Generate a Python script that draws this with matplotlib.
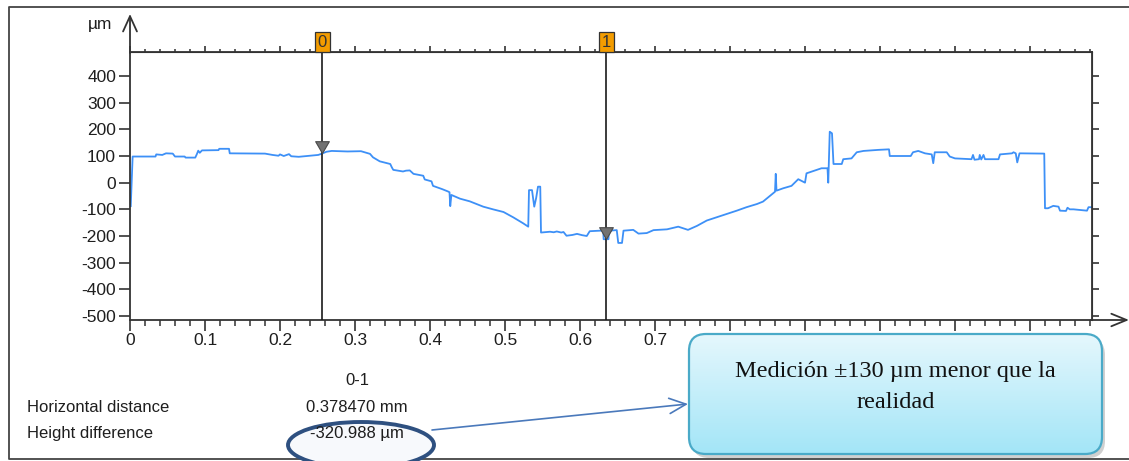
import matplotlib
matplotlib.use("Agg")
import matplotlib.pyplot as plt
import numpy as np
from matplotlib.patches import FancyBboxPatch, Ellipse
from matplotlib.path import Path
from matplotlib.ticker import MultipleLocator, FixedLocator

plt.rcParams["font.family"] = ["Liberation Sans", "DejaVu Sans"]
plt.rcParams["axes.unicode_minus"] = False

# profile trace (mm, µm)
profile_x = [
    0.001, 0.0035, 0.034, 0.035, 0.043, 0.048, 0.057, 0.060, 0.073, 0.074,
    0.087, 0.089, 0.091, 0.093, 0.096, 0.118, 0.119, 0.132, 0.133, 0.180,
    0.190, 0.198, 0.200, 0.205, 0.212, 0.215, 0.225, 0.240, 0.251, 0.257,
    0.262, 0.269, 0.290, 0.308, 0.313, 0.320, 0.324, 0.333, 0.347, 0.349,
    0.351, 0.364, 0.368, 0.373, 0.378, 0.391, 0.393, 0.402, 0.404, 0.416,
    0.424, 0.426, 0.427, 0.4285, 0.440, 0.453, 0.471, 0.484, 0.498, 0.511,
    0.524, 0.531, 0.532, 0.536, 0.539, 0.5415, 0.544, 0.547, 0.548, 0.560,
    0.565, 0.569, 0.575, 0.578, 0.582, 0.590, 0.596, 0.603, 0.609, 0.613,
    0.627, 0.631, 0.6315, 0.638, 0.6385, 0.649, 0.651, 0.656, 0.658, 0.671,
    0.678, 0.689, 0.698, 0.716, 0.731, 0.744, 0.756, 0.769, 0.782, 0.796,
    0.809, 0.822, 0.836, 0.844, 0.853, 0.860, 0.861, 0.862, 0.871, 0.882,
    0.891, 0.900, 0.902, 0.916, 0.922, 0.930, 0.931, 0.933, 0.936, 0.938,
    0.949, 0.951, 0.962, 0.969, 0.978, 0.998, 1.012, 1.013, 1.041, 1.044,
    1.051, 1.060, 1.069, 1.071, 1.073, 1.089, 1.093, 1.100, 1.122, 1.124,
    1.126, 1.132, 1.133, 1.135, 1.138, 1.140, 1.158, 1.160, 1.176, 1.178,
    1.181, 1.183, 1.186, 1.219, 1.220, 1.224, 1.231, 1.238, 1.240, 1.248,
    1.250, 1.253, 1.258, 1.276, 1.278, 1.282,
]
profile_z = [
    -88, 98, 98, 106, 104, 110, 109, 98, 98, 94,
    94, 106, 120, 112, 121, 122, 127, 127, 110, 109,
    104, 101, 106, 100, 107, 99, 97, 101, 104, 110,
    116, 119, 117, 118, 114, 108, 95, 80, 70, 58,
    48, 42, 45, 46, 33, 26, 12, 5, -12, -24,
    -33, -36, -88, -46, -60, -70, -90, -100, -110, -130,
    -152, -165, -28, -28, -90, -58, -15, -15, -187, -184,
    -186, -183, -187, -185, -199, -196, -192, -197, -200, -182,
    -180, -180, -212, -212, -180, -178, -226, -226, -180, -177,
    -191, -189, -178, -175, -165, -177, -162, -142, -130, -117,
    -105, -92, -80, -71, -50, -34, 33, -30, -21, -12,
    13, 0, 35, 48, 54, 54, 0, 191, 185, 70,
    70, 88, 91, 114, 119, 123, 125, 100, 100, 114,
    119, 110, 106, 73, 114, 114, 98, 91, 88, 104,
    86, 88, 104, 87, 104, 88, 88, 106, 110, 114,
    110, 76, 110, 109, -96, -96, -87, -90, -105, -106,
    -94, -100, -100, -105, -92, -92,
]

cursor_names = ["0", "1"]
cursor_x = [0.2565, 0.634970]
cursor_z = [110.0, -210.988]

y_ticks = [400, 300, 200, 100, 0, -100, -200, -300, -400, -500]
x_ticks = [0, 0.1, 0.2, 0.3, 0.4, 0.5, 0.6, 0.7, 0.8, 0.9, 1.0, 1.1, 1.2]

callout_text = "Medición ±130 µm menor que la\nrealidad"

W, H = 1129, 461
AX = "#333333"
TXT = "#1e1e1e"
fig = plt.figure(figsize=(W / 100, H / 100), dpi=100)

left, right, top, bottom = 130, 1091.5, 52, 320
ax = fig.add_axes([left / W, 1 - bottom / H, (right - left) / W, (bottom - top) / H])
ax.plot(profile_x, profile_z, color="#3d90f7", lw=1.3, zorder=2)
ax.set_xlim(0, 1.282)
ax.set_ylim(-515, 490)

for sp in ax.spines.values():
    sp.set_color(AX)
    sp.set_linewidth(1.3)

ax.xaxis.set_major_locator(FixedLocator(x_ticks))
ax.xaxis.set_minor_locator(MultipleLocator(0.02))
ax.set_xticklabels([f"{t:g}" for t in x_ticks])
ax.tick_params(axis="x", which="major", direction="out", length=8, width=1.2,
               color=AX, labelsize=12.5, labelcolor=TXT, pad=1.5)
ax.tick_params(axis="x", which="minor", direction="out", length=4, width=1.1, color=AX)
ax.set_yticks(y_ticks)
ax.tick_params(axis="y", which="major", direction="out", length=8, width=1.2,
               color=AX, labelsize=12.5, labelcolor=TXT, pad=2)

top_ax = ax.secondary_xaxis("top")
top_ax.xaxis.set_major_locator(FixedLocator(x_ticks))
top_ax.xaxis.set_minor_locator(MultipleLocator(0.02))
top_ax.tick_params(which="major", direction="out", length=4, width=1.2, color=AX, labeltop=False)
top_ax.tick_params(which="minor", direction="out", length=2.5, width=1.1, color=AX)
top_ax.spines["top"].set_color(AX)

right_ax = ax.secondary_yaxis("right")
right_ax.set_yticks(y_ticks)
right_ax.tick_params(direction="out", length=5, width=1.2, color=AX, labelright=False)
right_ax.spines["right"].set_color(AX)

# cursors
tri = Path([(-0.55, 0.95), (0.55, 0.95), (0.0, 0.0), (-0.55, 0.95)],
           [Path.MOVETO, Path.LINETO, Path.LINETO, Path.CLOSEPOLY])
for name, cx, cz in zip(cursor_names, cursor_x, cursor_z):
    ax.axvline(cx, color="#1a1a1a", lw=1.2, zorder=3)
    ax.plot([cx], [cz], marker=tri, markersize=17, color="#727272",
            markeredgecolor="#4a4a4a", markeredgewidth=0.8, zorder=4)
    ax.annotate(name, xy=(cx, 1), xycoords=("data", "axes fraction"),
                xytext=(0, 7.2), textcoords="offset points", ha="center", va="center",
                fontsize=12, color="#333333", annotation_clip=False,
                bbox=dict(boxstyle="square,pad=0.16", fc="#f39c00", ec="#333333", lw=0.9))

# overlay in pixel coordinates
ov = fig.add_axes([0, 0, 1, 1])
ov.set_xlim(0, W)
ov.set_ylim(H, 0)
ov.set_axis_off()
ov.set_zorder(5)

# outer frame: left, top and bottom edges
ov.plot([W, 9, 9, W], [7, 7, 459, 459], color="#444444", lw=1.3, zorder=1)

ov.annotate("", xy=(130, 14), xytext=(130, 53),
            arrowprops=dict(arrowstyle="->,head_length=1.1,head_width=0.5",
                            color=AX, lw=1.3, mutation_scale=10, shrinkA=0, shrinkB=0))
ov.annotate("", xy=(1129, 320), xytext=(1091, 320),
            arrowprops=dict(arrowstyle="->,head_length=1.1,head_width=0.45",
                            color=AX, lw=1.3, mutation_scale=10, shrinkA=0, shrinkB=0))
ov.text(100, 25, "µm", ha="center", va="center", fontsize=12.5, color=TXT)

# measurement table
dist = cursor_x[1] - cursor_x[0]
dz = cursor_z[1] - cursor_z[0]
ov.text(357, 380, f"{cursor_names[0]}-{cursor_names[1]}", ha="center", va="center",
        fontsize=12, color=TXT)
ov.text(27, 407, "Horizontal distance", ha="left", va="center", fontsize=12, color=TXT)
ov.text(357, 407, f"{dist:.6f} mm", ha="center", va="center", fontsize=12, color=TXT)
ov.text(27, 433, "Height difference", ha="left", va="center", fontsize=12, color=TXT)
ov.add_patch(Ellipse((361, 445), 146, 46, fc="#f7f9fc", ec="#2e5080", lw=2.8, zorder=2))
ov.text(357, 433, f"{dz:.3f} µm", ha="center", va="center", fontsize=12,
        color=TXT, zorder=3)

ov.annotate("", xy=(688, 404), xytext=(432, 430),
            arrowprops=dict(arrowstyle="->,head_length=1.2,head_width=0.55",
                            color="#4a79bb", lw=1.2, mutation_scale=10, shrinkA=0, shrinkB=0),
            zorder=3)

# callout box with gradient fill
bx0, by0, bx1, by1 = 689, 334, 1102, 454
shadow = FancyBboxPatch((bx0 + 3, by0 + 4), bx1 - bx0, by1 - by0,
                        boxstyle="round,pad=0,rounding_size=17",
                        fc="#8a8a8a", ec="none", alpha=0.4, zorder=4)
ov.add_patch(shadow)
box = FancyBboxPatch((bx0, by0), bx1 - bx0, by1 - by0,
                     boxstyle="round,pad=0,rounding_size=17",
                     fc="none", ec="#4aaac8", lw=1.6, zorder=6)
ov.add_patch(box)
c_top = np.array([0.90, 0.97, 0.99])
c_bot = np.array([0.64, 0.90, 0.97])
t = np.linspace(0, 1, 128)[:, None]
grad = (c_top[None, None, :] * (1 - t[:, :, None]) + c_bot[None, None, :] * t[:, :, None])
grad = np.repeat(grad, 2, axis=1)
im = ov.imshow(grad, extent=(bx0, bx1, by1, by0), aspect="auto", zorder=5, origin="upper")
im.set_clip_path(box)
ov.set_xlim(0, W)
ov.set_ylim(H, 0)
ov.text((bx0 + bx1) / 2, 387, callout_text, ha="center", va="center",
        fontsize=17.5, family="Liberation Serif", color="#111111",
        linespacing=1.68, zorder=7)

fig.savefig("out.png", dpi=100)
